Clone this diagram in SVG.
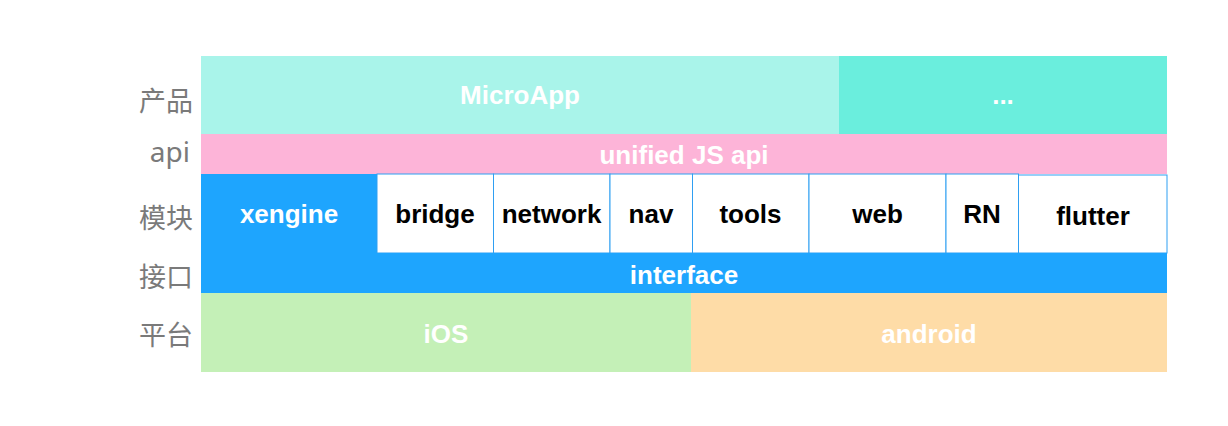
<svg xmlns="http://www.w3.org/2000/svg" width="1228" height="426" viewBox="0 0 1228 426">
<style>
.lbl{font-family:"Noto Sans CJK SC","Liberation Sans",sans-serif;font-size:27px;fill:#7a7a7a;text-anchor:end}
.w{font-family:"Liberation Sans",Arial,sans-serif;font-size:26px;font-weight:bold;fill:#ffffff;text-anchor:middle}
.b{font-family:"Liberation Sans",Arial,sans-serif;font-size:26px;font-weight:bold;fill:#000000;text-anchor:middle}
.mod{fill:#ffffff;stroke:#2f9ff2;stroke-width:1}
</style>
<rect width="1228" height="426" fill="#ffffff"/>
<g id="labels">
<text class="lbl" x="193" y="111">产品</text>
<text class="lbl" x="190" y="162" style="font-family:'Noto Sans',sans-serif;font-size:28px;font-weight:normal">api</text>
<text class="lbl" x="193" y="228">模块</text>
<text class="lbl" x="193" y="287">接口</text>
<text class="lbl" x="193" y="345">平台</text>
</g>
<g id="microapp"><rect x="201" y="56" width="638" height="78" fill="#a9f4ea"/><text class="w" x="520" y="104">MicroApp</text></g>
<g id="more"><rect x="839" y="56" width="328" height="78" fill="#6aeedd"/><text class="w" x="1003" y="104">...</text></g>
<g id="api"><rect x="201" y="134" width="966" height="40" fill="#fdb4d8"/><text class="w" x="684" y="164">unified JS api</text></g>
<g id="xengine"><rect x="201" y="174" width="176" height="79" fill="#1ea5fe"/><text class="w" x="289" y="223">xengine</text></g>
<g id="bridge"><rect class="mod" x="377" y="174" width="116.5" height="79"/><text class="b" x="435" y="223">bridge</text></g>
<g id="network"><rect class="mod" x="493.5" y="174" width="116.5" height="79"/><text class="b" x="551.5" y="223">network</text></g>
<g id="nav"><rect class="mod" x="610" y="174" width="82.5" height="79"/><text class="b" x="651" y="223">nav</text></g>
<g id="tools"><rect class="mod" x="692.5" y="174" width="116.5" height="79"/><text class="b" x="750.5" y="223">tools</text></g>
<g id="web"><rect class="mod" x="809" y="174" width="137" height="79"/><text class="b" x="877.5" y="223">web</text></g>
<g id="rn"><rect class="mod" x="946" y="174" width="72.5" height="79"/><text class="b" x="982" y="223">RN</text></g>
<g id="flutter"><rect class="mod" x="1018.5" y="175" width="148.5" height="78"/><text class="b" x="1093" y="225">flutter</text></g>
<g id="interface"><rect x="201" y="253" width="966" height="40" fill="#1ea5fe"/><text class="w" x="684" y="284">interface</text></g>
<g id="ios"><rect x="201" y="293" width="490" height="79" fill="#c4f0b7"/><text class="w" x="446" y="343">iOS</text></g>
<g id="android"><rect x="691" y="293" width="476" height="79" fill="#fedca7"/><text class="w" x="929" y="343">android</text></g>
<g id="connectors"></g>
</svg>
